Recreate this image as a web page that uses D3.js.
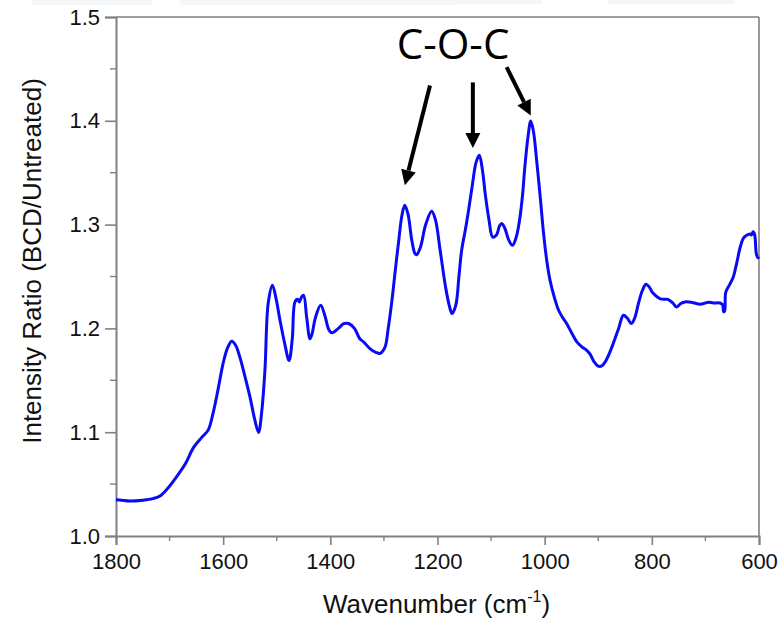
<!DOCTYPE html>
<html>
<head>
<meta charset="utf-8">
<script src="https://cdn.jsdelivr.net/npm/d3@7"></script>
<style>
  html, body { margin: 0; padding: 0; background: #ffffff; }
  svg { display: block; }
  .tick text { font-family: "Liberation Sans", Arial, sans-serif; fill: #111; }
</style>
</head>
<body>
<svg id="chart" width="780" height="620"></svg>
<script>
// Ratio spectrum, BCD-treated over untreated, 1800–600 cm-1
const wavenumber = [
  1800, 1790, 1774, 1750, 1731, 1718, 1705, 1687, 1670, 1656, 1640, 1628, 1619, 1610, 1600,
  1592, 1584, 1577, 1569, 1560, 1550, 1541, 1534, 1528, 1522, 1516, 1508, 1501, 1494, 1485,
  1477, 1471, 1466, 1461, 1458, 1454, 1450, 1444, 1438, 1434, 1428, 1418, 1410, 1403, 1397,
  1385, 1375, 1366, 1355, 1345, 1338, 1325, 1315, 1307, 1298, 1292, 1285, 1279, 1273, 1266,
  1261, 1255, 1248, 1242, 1239, 1232, 1222, 1211, 1204, 1195, 1185, 1178, 1173, 1166, 1160,
  1155, 1148, 1142, 1135, 1128, 1122, 1116, 1111, 1104, 1097, 1090, 1084, 1080, 1074, 1067,
  1060, 1053, 1046, 1041, 1037, 1031, 1026, 1021, 1015, 1008, 1002, 996, 990, 982, 974,
  966, 959, 950, 940, 930, 922, 915, 908, 900, 893, 887, 880, 872, 862, 853,
  846, 838, 832, 825, 818, 811, 805, 798, 785, 775, 769, 760, 754, 746, 738,
  725, 710, 700, 695, 685, 673, 668, 666, 664, 662, 655, 648, 642, 635, 629,
  623, 617, 614, 611, 608, 605, 602, 600
];
const intensityRatio = [
  1.035, 1.0345, 1.0337, 1.0345, 1.036, 1.0385, 1.045, 1.057, 1.070, 1.0847, 1.095, 1.102, 1.118, 1.140, 1.1665,
  1.181, 1.1877, 1.184, 1.1726, 1.155, 1.134, 1.112, 1.0998, 1.120, 1.160, 1.224, 1.2416, 1.228, 1.208, 1.185,
  1.169, 1.190, 1.2255, 1.228, 1.2255, 1.230, 1.232, 1.210, 1.190, 1.195, 1.210, 1.2223, 1.212, 1.199, 1.1957,
  1.200, 1.2045, 1.2047, 1.200, 1.190, 1.187, 1.180, 1.177, 1.176, 1.182, 1.200, 1.227, 1.255, 1.2817, 1.310,
  1.3186, 1.310, 1.285, 1.272, 1.271, 1.278, 1.300, 1.3128, 1.305, 1.275, 1.240, 1.222, 1.2143, 1.222, 1.250,
  1.275, 1.295, 1.3138, 1.338, 1.360, 1.3667, 1.352, 1.3298, 1.305, 1.288, 1.290, 1.299, 1.301, 1.296, 1.285,
  1.280, 1.288, 1.3073, 1.330, 1.3555, 1.385, 1.3997, 1.390, 1.362, 1.325, 1.2913, 1.265, 1.2464, 1.230, 1.2175,
  1.210, 1.2047, 1.196, 1.187, 1.182, 1.179, 1.175, 1.168, 1.1636, 1.164, 1.1678, 1.175, 1.1855, 1.200, 1.2127,
  1.210, 1.2047, 1.210, 1.224, 1.236, 1.2425, 1.240, 1.234, 1.2288, 1.228, 1.2278, 1.224, 1.2207, 1.224, 1.2255,
  1.225, 1.2233, 1.2245, 1.2252, 1.2245, 1.2245, 1.223, 1.216, 1.217, 1.235, 1.242, 1.2496, 1.262, 1.2784, 1.287,
  1.2897, 1.291, 1.290, 1.293, 1.290, 1.272, 1.268, 1.269
];

const xTickValues = [1800, 1600, 1400, 1200, 1000, 800, 600];
const xMinorTicks = [1700, 1500, 1300, 1100, 900, 700];
const yTickValues = [1.0, 1.1, 1.2, 1.3, 1.4, 1.5];
const yMinorTicks = [1.05, 1.15, 1.25, 1.35, 1.45];

// C-O-C band annotations: arrow tail and head, in data units
const annotationLabel = "C-O-C";
const arrowTailWn = [1214, 1134, 1071];
const arrowTailVal = [1.434, 1.437, 1.4517];
const arrowHeadWn = [1261, 1134, 1026];
const arrowHeadVal = [1.338, 1.3737, 1.405];

const data = wavenumber.map((w, i) => ({ w, v: intensityRatio[i] }));

const svg = d3.select("#chart");
const margin = { left: 116, right: 21, top: 17, bottom: 84 };
const W = 780, H = 620;

const x = d3.scaleLinear().domain([1800, 600]).range([margin.left, W - margin.right]);
const y = d3.scaleLinear().domain([1.0, 1.5]).range([H - margin.bottom, margin.top]);

const axisColor = "#808080";

// faint decorations in the page background
const bg = svg.append("g").attr("fill", "#f4f6f9");
bg.append("rect").attr("x", 32).attr("y", 0).attr("width", 120).attr("height", 5);
bg.append("rect").attr("x", 180).attr("y", 0).attr("width", 280).attr("height", 5);
bg.append("rect").attr("x", 445).attr("y", 0).attr("width", 97).attr("height", 4);
bg.append("rect").attr("x", 608).attr("y", 0).attr("width", 127).attr("height", 4);

// frame: top and right edges
svg.append("line")
  .attr("x1", x(1800)).attr("x2", x(600)).attr("y1", y(1.5)).attr("y2", y(1.5))
  .attr("stroke", axisColor).attr("stroke-width", 1.6);
svg.append("line")
  .attr("x1", x(600)).attr("x2", x(600)).attr("y1", y(1.5)).attr("y2", y(1.0))
  .attr("stroke", axisColor).attr("stroke-width", 1.6);

// x axis
const xAxis = svg.append("g")
  .attr("transform", `translate(0,${y(1.0)})`)
  .call(d3.axisBottom(x).tickValues(xTickValues).tickSize(9).tickPadding(8).tickFormat(d3.format("d")));
xAxis.select(".domain").attr("stroke", axisColor).attr("stroke-width", 2);
xAxis.selectAll(".tick line").attr("stroke", axisColor).attr("stroke-width", 1.6);
xAxis.selectAll(".tick text").attr("font-size", 22).attr("fill", "#111");

svg.append("g").selectAll("line").data(xMinorTicks).join("line")
  .attr("x1", d => x(d)).attr("x2", d => x(d))
  .attr("y1", y(1.0)).attr("y2", y(1.0) + 5)
  .attr("stroke", axisColor).attr("stroke-width", 1.4);

// y axis
const yAxis = svg.append("g")
  .attr("transform", `translate(${x(1800)},0)`)
  .call(d3.axisLeft(y).tickValues(yTickValues).tickSize(11).tickPadding(5).tickFormat(d3.format(".1f")));
yAxis.select(".domain").attr("stroke", axisColor).attr("stroke-width", 2);
yAxis.selectAll(".tick line").attr("stroke", axisColor).attr("stroke-width", 1.6);
yAxis.selectAll(".tick text").attr("font-size", 22).attr("fill", "#111");

svg.append("g").selectAll("line").data(yMinorTicks).join("line")
  .attr("x1", x(1800) - 6).attr("x2", x(1800))
  .attr("y1", d => y(d)).attr("y2", d => y(d))
  .attr("stroke", axisColor).attr("stroke-width", 1.4);

// spectrum line
const line = d3.line()
  .x(d => x(d.w))
  .y(d => y(d.v))
  .curve(d3.curveCatmullRom.alpha(0.5));

svg.append("path")
  .datum(data)
  .attr("d", line)
  .attr("fill", "none")
  .attr("stroke", "#0a0af5")
  .attr("stroke-width", 3)
  .attr("stroke-linejoin", "round");

// axis titles
svg.append("text")
  .attr("x", (x(1800) + x(600)) / 2 - 1)
  .attr("y", 613)
  .attr("text-anchor", "middle")
  .attr("font-family", "Liberation Sans, Arial, sans-serif")
  .attr("font-size", 26)
  .attr("fill", "#111")
  .call(t => {
    t.append("tspan").text("Wavenumber (cm");
    t.append("tspan").attr("font-size", 16).attr("dy", -11).text("-1");
    t.append("tspan").attr("dy", 11).text(")");
  });

svg.append("text")
  .attr("transform", "translate(41,261) rotate(-90)")
  .attr("text-anchor", "middle")
  .attr("font-family", "Liberation Sans, Arial, sans-serif")
  .attr("font-size", 26)
  .attr("fill", "#111")
  .text("Intensity Ratio (BCD/Untreated)");

// C-O-C annotation
svg.append("text")
  .attr("x", x(1171))
  .attr("y", y(1.46))
  .attr("text-anchor", "middle")
  .attr("font-family", "Open Sans, Noto Sans, sans-serif")
  .attr("font-size", 42)
  .attr("fill", "#000")
  .text(annotationLabel);

const arrows = svg.append("g");
arrowTailWn.forEach((tw, i) => {
  const x0 = x(tw), y0 = y(arrowTailVal[i]);
  const x1 = x(arrowHeadWn[i]), y1 = y(arrowHeadVal[i]);
  const ang = Math.atan2(y1 - y0, x1 - x0);
  const headLen = 15, headHalf = 7.5;
  const bx = x1 - headLen * Math.cos(ang), by = y1 - headLen * Math.sin(ang);
  arrows.append("line")
    .attr("x1", x0).attr("y1", y0).attr("x2", bx).attr("y2", by)
    .attr("stroke", "#000").attr("stroke-width", 4);
  const px = -Math.sin(ang), py = Math.cos(ang);
  arrows.append("path")
    .attr("d", `M${x1},${y1}L${bx + px * headHalf},${by + py * headHalf}L${bx - px * headHalf},${by - py * headHalf}Z`)
    .attr("fill", "#000");
});
</script>
</body>
</html>
